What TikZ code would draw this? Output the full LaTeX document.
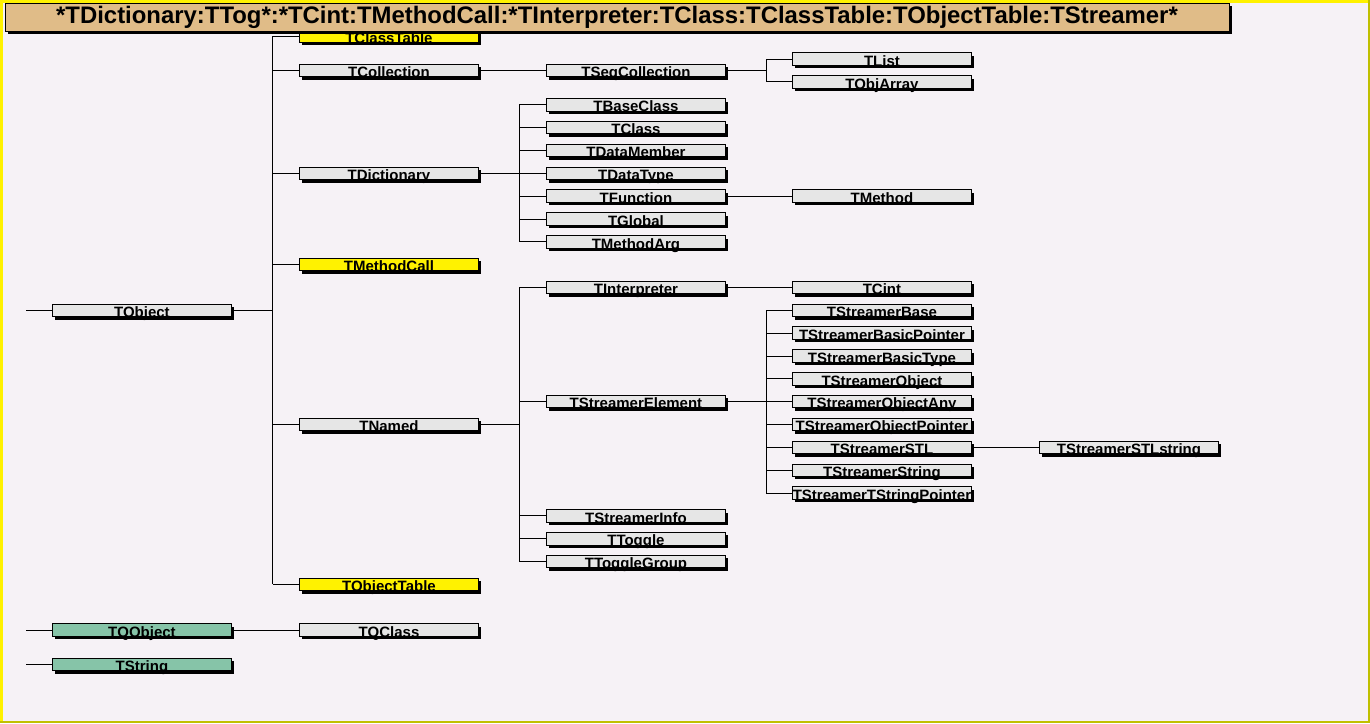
\documentclass[tikz,border=0pt]{standalone}
\usepackage{fontspec}
\setmainfont{Liberation Sans}
\usetikzlibrary{shadows}
\definecolor{bgpink}{HTML}{F6F2F6}
\definecolor{boxgray}{HTML}{E6E6E6}
\definecolor{boxteal}{HTML}{86C4A8}
\definecolor{titletan}{HTML}{E0BC88}
\definecolor{edgeolive}{HTML}{C0C000}
\tikzset{
  cls/.style = {
    draw=black, line width=0.9pt, fill=boxgray,
    minimum width=179pt, minimum height=12.5pt, inner sep=0pt, anchor=west,
    drop shadow={shadow xshift=3pt, shadow yshift=-3pt, fill=black, opacity=1}
  },
  hot/.style = {cls, fill=yellow},
  ext/.style = {cls, fill=boxteal},
  clslabel/.style = {font=\bfseries\fontsize{15}{15}\selectfont, anchor=base, inner sep=0pt},
  link/.style = {draw=black, line width=0.9pt},
  titlebar/.style = {
    draw=black, line width=0.9pt, fill=titletan,
    minimum width=1224pt, minimum height=28pt, inner sep=0pt,
    font=\bfseries\fontsize{23.9}{24}\selectfont,
    drop shadow={shadow xshift=3pt, shadow yshift=-3pt, fill=black, opacity=1}
  }
}
% one class box: [style] name, x, row, text
\newcommand{\classbox}[5][cls]{%
  \node[#1] (#2) at ({#3},{70.5+11.42*(#4)}) {};
  \node[clslabel] (#2-txt) at ([yshift=-0.5pt]#2.south) {#5};}

\begin{document}
\begin{tikzpicture}[x=1pt,y=-1pt]
  \useasboundingbox (0,0) rectangle (1370,723);
  \fill[bgpink] (0,0) rectangle (1370,723);
  \draw[yellow, line width=2.5pt] (1.25,723) -- (1.25,1.25) -- (1370,1.25);
  \draw[edgeolive, line width=2.5pt] (1368.75,0) -- (1368.75,721.75) -- (0,721.75);

  % bus lines
  \coordinate (busA) at (272.7,0);
  \coordinate (busB) at (519.3,0);
  \coordinate (busC) at (766.3,0);

  % column 1
  \classbox{tobj}{52}{21}{TObject}
  \classbox[ext]{tqobj}{52}{49}{TQObject}
  \classbox[ext]{tstr}{52}{52}{TString}
  \foreach \n in {tobj,tqobj,tstr} {
    \coordinate (\n-stub) at (26,0);
    \draw[link] (\n-stub |- \n.west) -- (\n.west);
  }

  % column 2
  \classbox[hot]{ctab}{299}{-3}{TClassTable}
  \classbox[hot]{mcall}{299}{17}{TMethodCall}
  \classbox[hot]{otab}{299}{45}{TObjectTable}
  \foreach \n/\r/\t in {tcoll/0/TCollection, tdict/9/TDictionary, tnamed/31/TNamed, tqcls/49/TQClass}
    \classbox{\n}{299}{\r}{\t};

  % column 3
  \foreach \n/\r/\t in {seqc/0/TSeqCollection, bcls/3/TBaseClass, tcls/5/TClass,
      dmem/7/TDataMember, dtyp/9/TDataType, func/11/TFunction, glob/13/TGlobal,
      marg/15/TMethodArg, intp/19/TInterpreter, selem/29/TStreamerElement,
      sinfo/39/TStreamerInfo, togg/41/TToggle, tgrp/43/TToggleGroup}
    \classbox{\n}{546}{\r}{\t};

  % column 4
  \foreach \n/\r/\t in {tlist/-1/TList, oarr/1/TObjArray, meth/11/TMethod, cint/19/TCint,
      sbase/21/TStreamerBase, sbptr/23/TStreamerBasicPointer, sbtyp/25/TStreamerBasicType,
      sobj/27/TStreamerObject, soany/29/TStreamerObjectAny, soptr/31/TStreamerObjectPointer,
      sstl/33/TStreamerSTL, sstr/35/TStreamerString, stptr/37/TStreamerTStringPointer}
    \classbox{\n}{792}{\r}{\t};

  % column 5
  \classbox{sstls}{1039}{33}{TStreamerSTLstring}

  % TObject tree
  \draw[link] (tobj.east) -- (busA |- tobj.east);
  \draw[link] (busA |- ctab.west) -- (busA |- otab.west);
  \foreach \c in {ctab,tcoll,tdict,mcall,tnamed,otab}
    \draw[link] (busA |- \c.west) -- (\c.west);

  % TCollection tree
  \draw[link] (tcoll.east) -- (seqc.west);
  \draw[link] (seqc.east) -- (busC |- seqc.east);
  \draw[link] (busC |- tlist.west) -- (busC |- oarr.west);
  \foreach \c in {tlist,oarr}
    \draw[link] (busC |- \c.west) -- (\c.west);

  % TDictionary tree
  \draw[link] (tdict.east) -- (busB |- tdict.east);
  \draw[link] (busB |- bcls.west) -- (busB |- marg.west);
  \foreach \c in {bcls,tcls,dmem,dtyp,func,glob,marg}
    \draw[link] (busB |- \c.west) -- (\c.west);
  \draw[link] (func.east) -- (meth.west);

  % TNamed tree
  \draw[link] (tnamed.east) -- (busB |- tnamed.east);
  \draw[link] (busB |- intp.west) -- (busB |- tgrp.west);
  \foreach \c in {intp,selem,sinfo,togg,tgrp}
    \draw[link] (busB |- \c.west) -- (\c.west);
  \draw[link] (intp.east) -- (cint.west);

  % TStreamerElement tree
  \draw[link] (selem.east) -- (busC |- selem.east);
  \draw[link] (busC |- sbase.west) -- (busC |- stptr.west);
  \foreach \c in {sbase,sbptr,sbtyp,sobj,soany,soptr,sstl,sstr,stptr}
    \draw[link] (busC |- \c.west) -- (\c.west);
  \draw[link] (sstl.east) -- (sstls.west);

  \draw[link] (tqobj.east) -- (tqcls.west);

  % title
  \node[titlebar] (title) at (617,17)
    {*TDictionary:TTog*:*TCint:TMethodCall:*TInterpreter:TClass:TClassTable:TObjectTable:TStreamer*};
\end{tikzpicture}
\end{document}
